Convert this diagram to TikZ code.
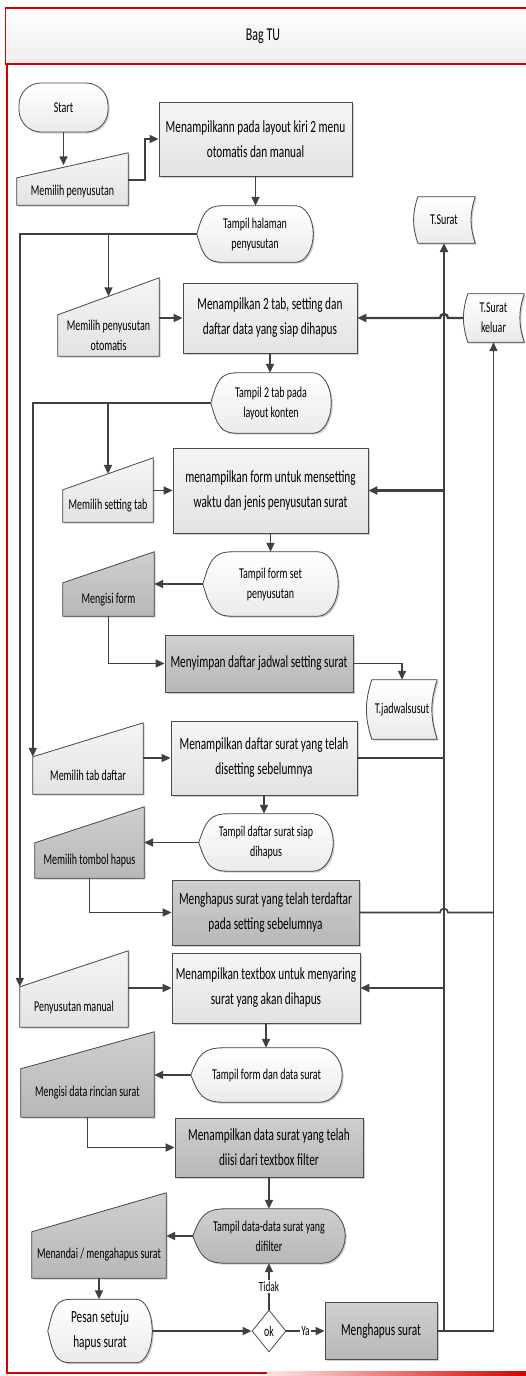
\documentclass[tikz,border=0pt]{standalone}
\usepackage{fontspec}
\setmainfont{Carlito}[FakeStretch=0.665]
\usepackage{tikz}
\usetikzlibrary{arrows.meta, calc, shapes.geometric, shadows, backgrounds}

\newcommand{\procfont}{\fontsize{17}{25}\selectfont}
\newcommand{\shapefont}{\fontsize{15}{20}\selectfont}

\newcommand{\manin}[3]{%
  \begin{scope}[on background layer]
    \filldraw[edgeline, shadowed, #2] (#1.south west) -- (#1.south east)
      -- ($(#1.north east)+(0,-#3)$) -- (#1.north west) -- cycle;
    \coordinate (#1-top) at ($(#1.north west)!0.5!(#1.north east)+(0,-#3/2)$);
  \end{scope}}

\newcommand{\dispsh}[2]{%
  \begin{scope}[on background layer]
    \filldraw[edgeline, shadowed, #2] (#1.west)
      .. controls ($(#1.west)!0.75!($(#1.north west)!0.07!(#1.north east)$)$) and ($(#1.north west)!0.08!(#1.north east)$)
      .. ($(#1.north west)!0.22!(#1.north east)$) -- ($(#1.north west)!0.85!(#1.north east)$)
      .. controls ($(#1.north west)!0.933!(#1.north east)$) and ($(#1.east)!0.552!(#1.north east)$) .. (#1.east)
      .. controls ($(#1.east)!0.552!(#1.south east)$) and ($(#1.south west)!0.933!(#1.south east)$)
      .. ($(#1.south west)!0.85!(#1.south east)$) -- ($(#1.south west)!0.22!(#1.south east)$)
      .. controls ($(#1.south west)!0.08!(#1.south east)$) and ($(#1.west)!0.75!($(#1.south west)!0.07!(#1.south east)$)$)
      .. (#1.west) -- cycle;
  \end{scope}}

\newcommand{\storesh}[1]{%
  \begin{scope}[on background layer]
    \filldraw[edgeline, shadowed, pale] ($(#1.north west)+(5,0)$) -- (#1.north east)
      to[bend right=18] (#1.south east) -- ($(#1.south west)+(5,0)$)
      to[bend left=18] ($(#1.north west)+(5,0)$) -- cycle;
  \end{scope}}

\begin{document}
\begin{tikzpicture}[x=1pt, y=-1pt,
    every node/.style={inner sep=0pt, align=center, font=\procfont},
    sized/.style 2 args={rectangle, minimum width=#1pt, minimum height=#2pt},
    edgeline/.style={draw=black!70, line width=0.8pt},
    shadowed/.style={drop shadow={shadow xshift=1.5pt, shadow yshift=-1.5pt, fill=black!40, opacity=0.5}},
    light/.style={top color=black!4, bottom color=black!11},
    dark/.style={top color=black!19, bottom color=black!28},
    pale/.style={top color=white, bottom color=black!8},
    proc/.style={edgeline, shadowed},
    conn/.style={draw=black!75, line width=1.6pt},
    arr/.style={conn, -{Triangle[length=9pt, width=8pt]}},
    arrthick/.style={arr, line width=2.4pt},
    lbl/.style={fill=white, inner sep=1.5pt, font=\fontsize{14}{16}\selectfont},
    lane/.style={draw=red!85!black, line width=1.2pt}
  ]
  \useasboundingbox (0,0) rectangle (526,1376);
  \draw[lane, top color=white, bottom color=black!7] (5.5,8) rectangle (540,64);
  \draw[lane] (7,64) -- (7,1373) -- (540,1373);
  \shade[left color=red!10, right color=red!85!black] (267,1371) rectangle (526,1375);
  \node[font=\fontsize{18}{22}\selectfont] (lanetitle) at (263,36) {Bag TU};

  \node[sized={89}{49}, edgeline, shadowed, pale, rounded corners=22pt, font=\shapefont] (start) at (63.5,107.5) {Start};
  \node[sized={111}{27}, font=\shapefont] (in1) at (72.5,191.5) {Memilih penyusutan};
  \node[sized={193}{74}, proc, light] (p1) at (255.5,139) {Menampilkann pada layout kiri 2 menu\\otomatis dan manual};
  \node[sized={116}{56}, font=\shapefont] (d1) at (255,234) {Tampil halaman\\penyusutan};
  \node[sized={62}{46}, font=\shapefont] (tsurat) at (444,220) {T.Surat};
  \node[sized={61}{48}, font=\shapefont] (tkeluar) at (493.5,318) {T.Surat\\keluar};
  \node[sized={101}{41}, font=\shapefont] (in2) at (108.5,335.5) {Memilih penyusutan\\otomatis};
  \node[sized={174}{70}, proc, light] (p2) at (270,318) {Menampilkan 2 tab, setting dan\\daftar data yang siap dihapus};
  \node[sized={120}{60}, font=\shapefont] (d2) at (271,403) {Tampil 2 tab pada\\layout konten};
  \node[sized={90}{32}, font=\shapefont] (in3) at (108,506) {Memilih setting tab};
  \node[sized={195}{85}, proc, light] (p3) at (270.5,490.5) {menampilkan form untuk mensetting\\waktu dan jenis penyusutan surat};
  \node[sized={135}{64}, font=\shapefont] (d3) at (270.5,584) {Tampil form set\\penyusutan};
  \node[sized={91}{33}, font=\shapefont] (in4) at (108.5,599.5) {Mengisi form};
  \node[sized={188}{57}, proc, dark] (p4) at (259,663.5) {Menyimpan daftar jadwal setting surat};
  \node[sized={70}{59}, font=\shapefont] (tjadwal) at (402,709.5) {T.jadwalsusut};
  \node[sized={110}{37}, font=\shapefont] (in5) at (88,775.5) {Memilih tab daftar};
  \node[sized={186}{74}, proc, light] (p5) at (264,758) {Menampilkan daftar surat yang telah\\disetting sebelumnya};
  \node[sized={134}{57}, font=\shapefont] (d4) at (266,842.5) {Tampil daftar surat siap\\dihapus};
  \node[sized={109}{35}, font=\shapefont] (in6) at (89.5,860.5) {Memilih tombol hapus};
  \node[sized={187}{65}, proc, dark] (p6) at (265.5,912.5) {Menghapus surat yang telah terdaftar\\pada setting sebelumnya};
  \node[sized={108}{40}, font=\shapefont] (in7) at (74,1007) {Penyusutan manual};
  \node[sized={188}{70}, proc, light] (p7) at (266,988) {Menampilkan textbox untuk menyaring\\surat yang akan dihapus};
  \node[sized={151}{54}, font=\shapefont] (d5) at (266.5,1075) {Tampil form dan data surat};
  \node[sized={133}{48}, font=\shapefont] (in8) at (87.5,1093) {Mengisi data rincian surat};
  \node[sized={188}{59}, proc, dark] (p8) at (269,1147.5) {Menampilkan data surat yang telah\\diisi dari textbox filter};
  \node[sized={152}{54}, font=\shapefont] (d6) at (269,1236) {Tampil data-data surat yang\\difilter};
  \node[sized={134}{46}, font=\shapefont] (in9) at (99,1255) {Menandai / mengahapus surat};
  \node[sized={104}{63}] (d7) at (100,1331) {Pesan setuju\\hapus surat};
  \node[diamond, edgeline, fill=white, minimum width=34pt, minimum height=42pt, font=\shapefont] (ok) at (269,1331) {ok};
  \node[sized={112}{57}, proc, dark] (p9) at (381,1331) {Menghapus surat};

  \manin{in1}{light}{25}
  \manin{in2}{light}{37}
  \manin{in3}{light}{32}
  \manin{in4}{dark}{31}
  \manin{in5}{light}{34}
  \manin{in6}{dark}{36}
  \manin{in7}{light}{36}
  \manin{in8}{dark}{37}
  \manin{in9}{dark}{39}
  \dispsh{d1}{pale}
  \dispsh{d2}{pale}
  \dispsh{d3}{pale}
  \dispsh{d4}{pale}
  \dispsh{d5}{pale}
  \dispsh{d6}{dark}
  \dispsh{d7}{pale}
  \storesh{tsurat}
  \storesh{tkeluar}
  \storesh{tjadwal}

  \draw[arr] (start.south) -- (start.south |- in1-top);
  \draw[arr] ($(in1.north east)+(0,2)$) -- ++(17,0) |- (p1.west);
  \draw[arr] (p1.south) -- (p1.south |- d1.north);
  \draw[arr] (d1.west) -| (in7.north west);
  \draw[arr] (in2-top |- d1.west) -- (in2-top);
  \draw[arr] (in2.east |- p2.west) -- (p2.west);
  \draw[arrthick] (tkeluar.west) -- ($(tsurat.south |- p2.east)+(4,0)$) arc[start angle=0, end angle=180, radius=4pt] -- (p2.east);
  \draw[arr] (p2.south) -- (p2.south |- d2.north);
  \draw[arr] (d2.west) -| (in5.north west);
  \draw[arr] (in3-top |- d2.west) -- (in3-top);
  \draw[arr] (in3.east |- p3.west) -- (p3.west);
  \draw[arrthick] (tsurat.south |- p3.east) -- (p3.east);
  \draw[arr] (p3.south) -- (p3.south |- d3.north);
  \draw[arr] (d3.west) -- (d3.west -| in4.east);
  \draw[arr] (in4.south) |- (p4.west);
  \draw[arr] (p4.east) -| (tjadwal.north);
  \draw[arr] (in5.east |- p5.west) -- (p5.west);
  \draw[conn] (p5.east) -- (tsurat.south |- p5.east);
  \draw[arr] (p5.south) -- (p5.south |- d4.north);
  \draw[arr] (d4.west) -- (d4.west -| in6.east);
  \draw[arr] (in6.south) |- (p6.west);
  \draw[conn] (p6.east) -- ($(tsurat.south |- p6.east)+(-4,0)$) arc[start angle=180, end angle=0, radius=4pt] -- (tkeluar.south |- p6.east);
  \draw[arr] (in7.east |- p7.west) -- (p7.west);
  \draw[arrthick] (tsurat.south |- p7.east) -- (p7.east);
  \draw[arr] (p7.south) -- (p7.south |- d5.north);
  \draw[arr] (d5.west) -- (d5.west -| in8.east);
  \draw[arr] (in8.south) |- (p8.west);
  \draw[arr] (p8.south) -- (p8.south |- d6.north);
  \draw[arr] (d6.west) -- (d6.west -| in9.east);
  \draw[arr] (in9.south) -- (in9.south |- d7.north);
  \draw[arr] (d7.east) -- (ok.west);
  \draw[arr] (ok.north) -- node[lbl] (tidak) {Tidak} (d6.south);
  \draw[arr] (ok.east) -- node[lbl] (ya) {Ya} (p9.west);
  \draw[arr] (p9.east) -| (tkeluar.south);
  \draw[conn] (tsurat.south |- p9.east) -- (tsurat.south |- p7.east);
  \draw[arrthick] (tsurat.south |- p7.east) -- (tsurat.south);
\end{tikzpicture}
\end{document}
